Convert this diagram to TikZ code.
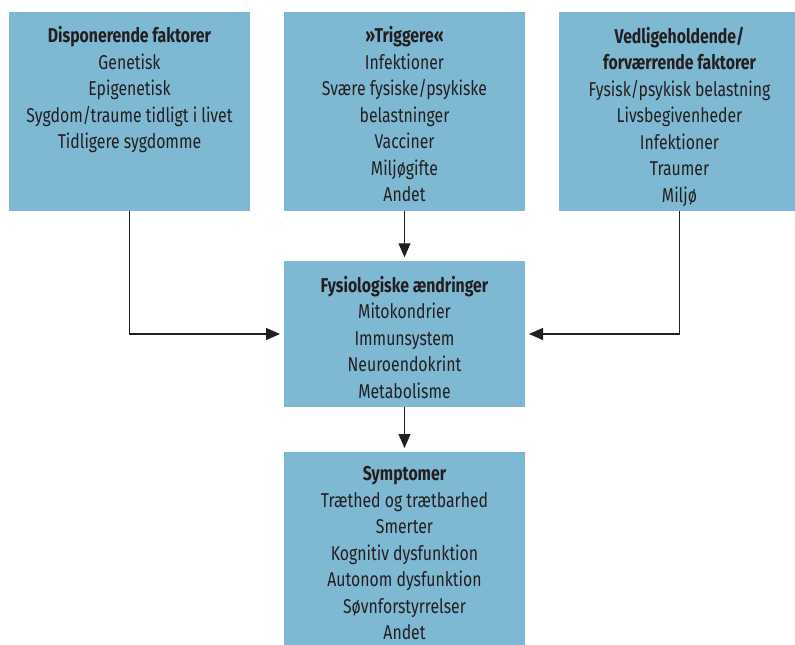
\documentclass[tikz,border=0pt]{standalone}
\usepackage{fontspec}
\setmainfont{Fira Sans}[FakeStretch=0.79]
\usepackage{xcolor}
\usetikzlibrary{arrows.meta}
\usetikzlibrary{positioning}
\definecolor{boxblue}{HTML}{7EB8D3}
\definecolor{inkgray}{HTML}{231F20}
\newcommand{\boxwidth}{241pt}

\begin{document}
\begin{tikzpicture}[x=1pt, y=-1pt,
	factorbox/.style={rectangle, fill=boxblue, draw=none, minimum width=\boxwidth, inner sep=0pt, outer sep=0pt},
	itemtext/.style={align=center, inner sep=0pt, text=inkgray, font=\fontsize{20}{26.5}\selectfont},
	flowarrow/.style={draw=inkgray, line width=1.2pt, -{Triangle[length=14pt,width=12pt]}, shorten >=4pt}]
	% The frame:
	\clip (0,0) rectangle (795,645);
	\fill[white] (0,0) rectangle (795,645);
	% Boxes:
	\node[factorbox, minimum height=199pt] (disp) at (129.5,111.5) {};
	\node[factorbox, minimum height=199pt] (trig) at (404.5,111.5) {};
	\node[factorbox, minimum height=199pt] (vedl) at (679.5,111.5) {};
	\node[factorbox, minimum height=145.5pt] (fys) at (404.5,334) {};
	\node[factorbox, minimum height=210pt] (symp) at (404.5,557) {};
	% Texts:
	\node[itemtext, below=14.5pt of disp.north] (disptext)
		{\textbf{Disponerende faktorer}\\Genetisk\\Epigenetisk\\Sygdom/traume tidligt i livet\\Tidligere sygdomme};
	\node[itemtext, below=14.5pt of trig.north] (trigtext)
		{\textbf{»Triggere«}\\Infektioner\\Svære fysiske/psykiske\\belastninger\\Vacciner\\Miljøgifte\\Andet};
	\node[itemtext, below=14.5pt of vedl.north] (vedltext)
		{\textbf{Vedligeholdende/}\\\textbf{forværrende faktorer}\\Fysisk/psykisk belastning\\Livsbegivenheder\\Infektioner\\Traumer\\Miljø};
	\node[itemtext, below=14.5pt of fys.north] (fystext)
		{\textbf{Fysiologiske ændringer}\\Mitokondrier\\Immunsystem\\Neuroendokrint\\Metabolisme};
	\node[itemtext, below=14.5pt of symp.north] (symptext)
		{\textbf{Symptomer}\\Træthed og trætbarhed\\Smerter\\Kognitiv dysfunktion\\Autonom dysfunktion\\Søvnforstyrrelser\\Andet};
	% Arrows:
	\draw[flowarrow] (disp.south) |- (fys.west);
	\draw[flowarrow] (vedl.south) |- (fys.east);
	\draw[flowarrow] (trig.south) -- (fys.north);
	\draw[flowarrow] (fys.south) -- (symp.north);
\end{tikzpicture}
\end{document}
